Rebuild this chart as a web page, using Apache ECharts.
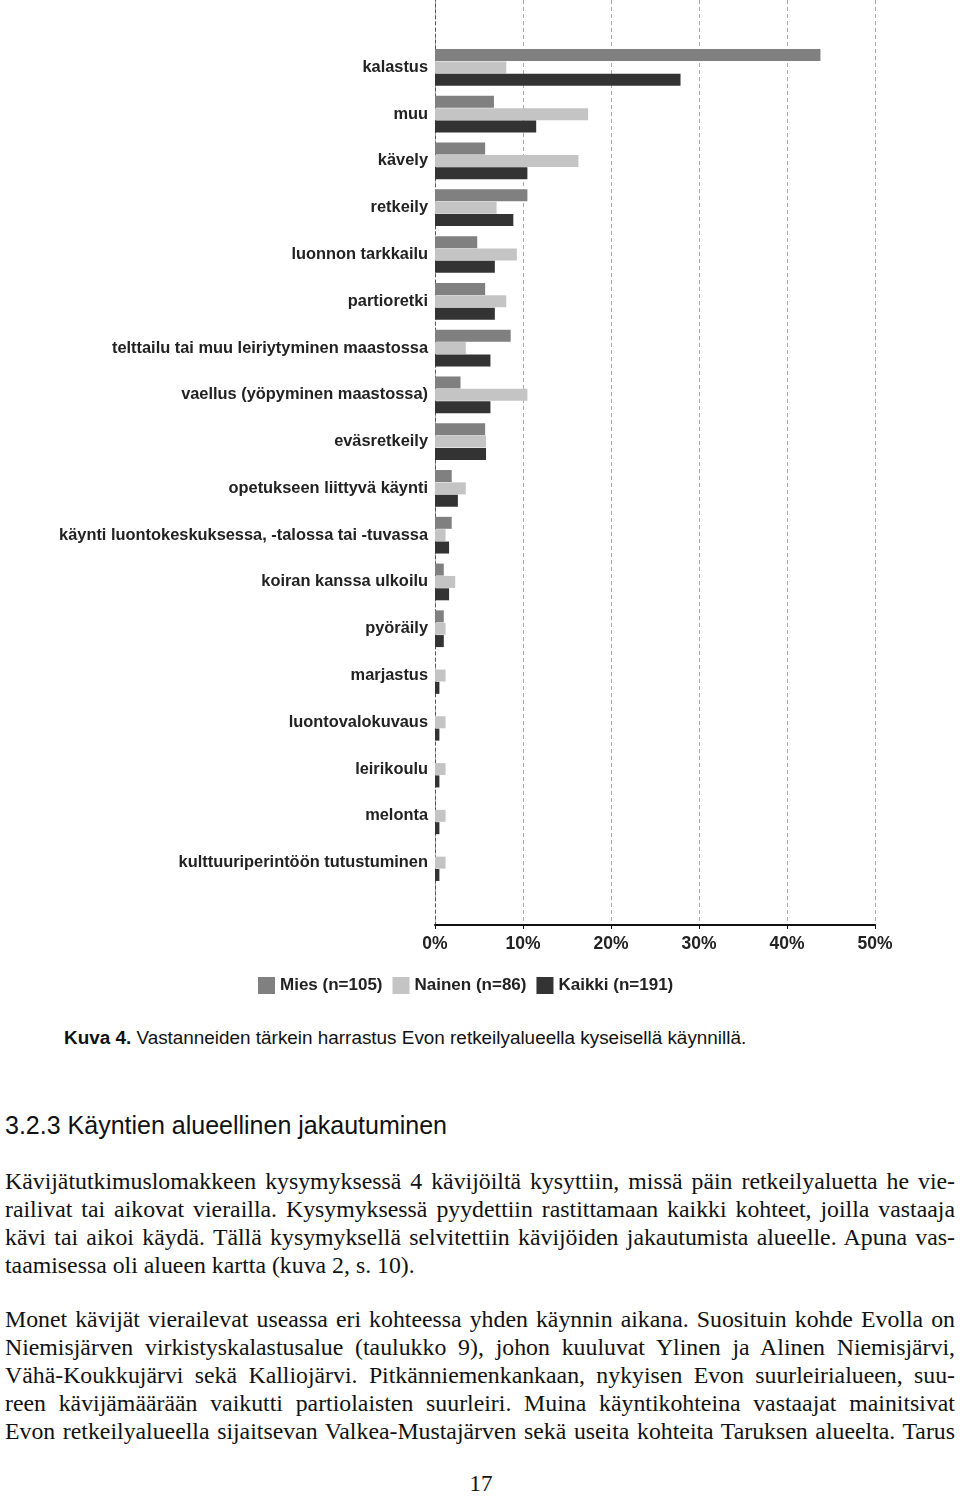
<!DOCTYPE html>
<html>
<head>
<meta charset="utf-8">
<script src="https://cdn.jsdelivr.net/npm/echarts@6/dist/echarts.min.js"></script>
<style>
  html, body { margin: 0; padding: 0; background: #fff; }
  body { width: 960px; height: 1496px; position: relative; overflow: hidden; }
  #chart { position: absolute; left: 0; top: 0; width: 960px; height: 1000px; }
  .cap { position: absolute; left: 64px; top: 1026px; line-height: 24px; font-family: "Liberation Sans", Arial, sans-serif; font-size: 18.9px; color: #111; white-space: nowrap; }
  .h { position: absolute; left: 5px; top: 1110px; line-height: 30px; font-family: "Liberation Sans", Arial, sans-serif; font-size: 25px; color: #111; white-space: nowrap; }
  .ln { position: absolute; left: 5px; width: 950px; height: 28px; line-height: 28px; font-family: "Liberation Serif", "Times New Roman", serif; font-size: 23.8px; color: #111; text-align: justify; text-align-last: justify; }
  .ln.last { text-align: left; text-align-last: left; }
  .pg { position: absolute; left: 0; width: 962px; top: 1471px; text-align: center; font-family: "Liberation Serif", serif; font-size: 23px; color: #111; }
</style>
</head>
<body>
<div id="chart"></div>
<div class="cap"><b>Kuva 4.</b> Vastanneiden tärkein harrastus Evon retkeilyalueella kyseisellä käynnillä.</div>
<div class="h">3.2.3 Käyntien alueellinen jakautuminen</div>
<div class="ln" style="top:1167px">Kävijätutkimuslomakkeen kysymyksessä 4 kävijöiltä kysyttiin, missä päin retkeilyaluetta he vie-</div>
<div class="ln" style="top:1195px">railivat tai aikovat vierailla. Kysymyksessä pyydettiin rastittamaan kaikki kohteet, joilla vastaaja</div>
<div class="ln" style="top:1223px">kävi tai aikoi käydä. Tällä kysymyksellä selvitettiin kävijöiden jakautumista alueelle. Apuna vas-</div>
<div class="ln last" style="top:1251px">taamisessa oli alueen kartta (kuva 2, s. 10).</div>
<div class="ln" style="top:1305px">Monet kävijät vierailevat useassa eri kohteessa yhden käynnin aikana. Suosituin kohde Evolla on</div>
<div class="ln" style="top:1333px">Niemisjärven virkistyskalastusalue (taulukko 9), johon kuuluvat Ylinen ja Alinen Niemisjärvi,</div>
<div class="ln" style="top:1361px">Vähä-Koukkujärvi sekä Kalliojärvi. Pitkänniemenkankaan, nykyisen Evon suurleirialueen, suu-</div>
<div class="ln" style="top:1389px">reen kävijämäärään vaikutti partiolaisten suurleiri. Muina käyntikohteina vastaajat mainitsivat</div>
<div class="ln" style="top:1417px">Evon retkeilyalueella sijaitsevan Valkea-Mustajärven sekä useita kohteita Taruksen alueelta. Tarus</div>
<div class="pg">17</div>
<script>
const categories = ['kalastus', 'muu', 'kävely', 'retkeily', 'luonnon tarkkailu', 'partioretki',
  'telttailu tai muu leiriytyminen maastossa', 'vaellus (yöpyminen maastossa)', 'eväsretkeily',
  'opetukseen liittyvä käynti', 'käynti luontokeskuksessa, -talossa tai -tuvassa',
  'koiran kanssa ulkoilu', 'pyöräily', 'marjastus', 'luontovalokuvaus', 'leirikoulu', 'melonta',
  'kulttuuriperintöön tutustuminen'];
const seriesNames = ['Mies (n=105)', 'Nainen (n=86)', 'Kaikki (n=191)'];
const mies   = [43.8, 6.7, 5.7, 10.5, 4.8, 5.7, 8.6, 2.9, 5.7, 1.9, 1.9, 1.0, 1.0, 0, 0, 0, 0, 0];
const nainen = [8.1, 17.4, 16.3, 7.0, 9.3, 8.1, 3.5, 10.5, 5.8, 3.5, 1.2, 2.3, 1.2, 1.2, 1.2, 1.2, 1.2, 1.2];
const kaikki = [27.9, 11.5, 10.5, 8.9, 6.8, 6.8, 6.3, 6.3, 5.8, 2.6, 1.6, 1.6, 1.0, 0.5, 0.5, 0.5, 0.5, 0.5];
const xTicks = [0, 10, 20, 30, 40, 50];

const colors = ['#808080', '#c4c4c4', '#333333'];
const font = '"Liberation Sans", Arial, sans-serif';

const chart = echarts.init(document.getElementById('chart'), null, { renderer: 'canvas' });
const option = {
  animation: false,
  color: colors,
  legend: {
    data: seriesNames,
    left: 253, top: 972,
    itemWidth: 17, itemHeight: 17, itemGap: 10,
    icon: 'rect',
    textStyle: { fontFamily: font, fontSize: 17, fontWeight: 'bold', color: '#222' }
  },
  grid: [
    { left: 435, width: 440, top: 0, height: 925, containLabel: false },
    { left: 435, width: 440, top: 44, height: 842, containLabel: false }
  ],
  xAxis: [
    {
      gridIndex: 0, type: 'value', min: xTicks[0], max: xTicks[xTicks.length - 1], interval: 10,
      axisLine: { show: true, lineStyle: { color: '#111', width: 2 } },
      axisTick: { show: true, length: 4, lineStyle: { color: '#111' } },
      axisLabel: { formatter: '{value}%', fontFamily: font, fontSize: 17.5, fontWeight: 'bold', color: '#222', margin: 10 },
      splitLine: { show: true, lineStyle: { color: '#aaaaaa', type: [4, 3], width: 1 } }
    },
    {
      gridIndex: 1, type: 'value', min: 0, max: 50, show: false
    }
  ],
  yAxis: [
    {
      gridIndex: 0, type: 'value', min: 0, max: 1,
      axisLine: { show: true, onZero: false, lineStyle: { color: '#555', type: [3, 3], width: 1 } },
      axisTick: { show: false }, axisLabel: { show: false }, splitLine: { show: false }
    },
    {
      gridIndex: 1, type: 'category', data: categories, inverse: true,
      axisLine: { show: false }, axisTick: { show: false },
      axisLabel: { fontFamily: font, fontSize: 16.4, fontWeight: 'bold', color: '#222', margin: 7 }
    }
  ],
  series: [
    { name: seriesNames[0], type: 'bar', xAxisIndex: 1, yAxisIndex: 1, data: mies, barWidth: 12, barGap: '3%', itemStyle: { color: colors[0] } },
    { name: seriesNames[1], type: 'bar', xAxisIndex: 1, yAxisIndex: 1, data: nainen, barWidth: 12, barGap: '3%', itemStyle: { color: colors[1] } },
    { name: seriesNames[2], type: 'bar', xAxisIndex: 1, yAxisIndex: 1, data: kaikki, barWidth: 12, barGap: '3%', itemStyle: { color: colors[2] } }
  ]
};
chart.setOption(option);
</script>
</body>
</html>
